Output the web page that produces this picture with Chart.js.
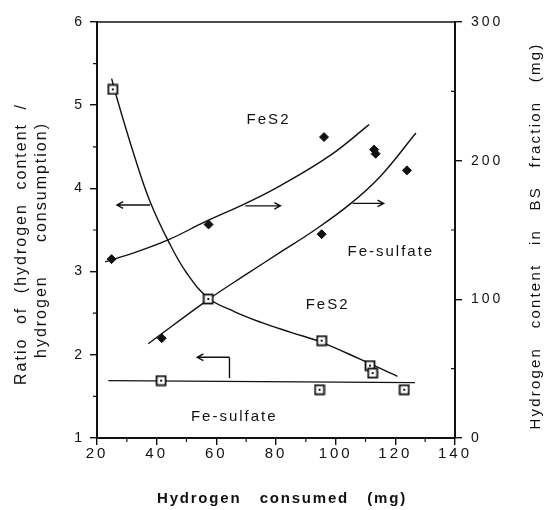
<!DOCTYPE html>
<html lang="en">
<head>
<meta charset="utf-8">
<title>Hydrogen content vs hydrogen consumed</title>
<script src="https://cdn.jsdelivr.net/npm/chart.js@4.4.1/dist/chart.umd.min.js"></script>
<style>
  html, body { margin: 0; padding: 0; background: #fff; }
  #wrap { width: 545px; height: 510px; }
</style>
</head>
<body>

<div id="wrap"><canvas id="myChart" width="545" height="510"></canvas></div>

<script>
// ratio (left axis), open squares
const fes2RatioX = [25.3, 57.3, 95.3, 111.5, 112.4];
const fes2Ratio  = [5.19, 2.67, 2.17, 1.87, 1.78];
const sulfRatioX = [41.5, 94.6, 123.0];
const sulfRatio  = [1.69, 1.58, 1.58];

// hydrogen content in BS fraction, mg (right axis), filled diamonds
const fes2ContentX = [24.9, 57.4, 96.1, 112.9];
const fes2Content  = [129, 154, 217, 208];
const sulfContentX = [41.7, 95.3, 113.4, 123.9];
const sulfContent  = [72, 147, 205, 193];

// hand drawn curves
const fes2RatioFitX = [24.9, 27.2, 32.8, 37.8, 44.0, 50.1, 57.4, 66.0, 75.0, 85.0, 95.3, 108.0, 120.7];
const fes2RatioFit  = [5.32, 5.02, 4.36, 3.84, 3.36, 2.98, 2.68, 2.52, 2.39, 2.27, 2.15, 1.95, 1.74];
const sulfRatioFitX = [23.8, 126.6];
const sulfRatioFit  = [1.69, 1.665];
const fes2ContentFitX = [22.7, 33.0, 44.0, 56.3, 69.7, 81.5, 98.3, 111.2];
const fes2ContentFit  = [127, 134, 143, 156, 169, 182, 204, 226];
const sulfContentFitX = [37.2, 57.4, 70.0, 81.5, 93.0, 105.0, 115.1, 126.9];
const sulfContentFit  = [68, 100, 118, 134, 150, 169, 189, 220];

const xTicks = [20, 40, 60, 80, 100, 120, 140];
const ratioTicks = [1, 2, 3, 4, 5, 6];
const contentTicks = [0, 100, 200, 300];

const FONT = "'Liberation Sans', Arial, sans-serif";
const INK = '#111';

const pts = (xs, ys) => xs.map((x, i) => ({ x: x, y: ys[i] }));

// open square with a dot in the middle
function squareDot() {
  const c = document.createElement('canvas');
  c.width = 12; c.height = 12;
  const g = c.getContext('2d');
  g.fillStyle = '#fff';
  g.fillRect(1.5, 1.5, 9, 9);
  g.strokeStyle = INK;
  g.lineWidth = 1.8;
  g.strokeRect(1.5, 1.5, 9, 9);
  g.fillStyle = INK;
  g.fillRect(5, 5, 2, 2);
  return c;
}
const sq = squareDot();

function markers(xs, ys, axis, style) {
  const d = { data: pts(xs, ys), yAxisID: axis, showLine: false };
  if (style === 'square') {
    d.pointStyle = sq; d.pointRadius = 6;
  } else {
    d.pointStyle = 'rectRot'; d.pointRadius = 4.5;
    d.backgroundColor = INK; d.borderColor = INK; d.borderWidth = 1;
  }
  return d;
}
function curve(xs, ys, axis) {
  return {
    data: pts(xs, ys), yAxisID: axis, showLine: true, pointRadius: 0,
    borderColor: INK, borderWidth: 1.4, tension: 0.4, fill: false
  };
}

// arrows and labels in data units of x / left axis
const arrows = [
  [37.8, 3.80, 26.7, 3.80],
  [69.7, 3.79, 81.5, 3.79],
  [105.7, 3.82, 116.1, 3.82]
];
const labels = [
  ['FeS2', 77.5, 4.82],
  ['Fe-sulfate', 118.5, 3.24],
  ['FeS2', 97.3, 2.60],
  ['Fe-sulfate', 66.0, 1.26]
];

function spread(ctx, text, x, y, width, angle, font, spacing) {
  ctx.save();
  ctx.translate(x, y);
  ctx.rotate(angle);
  ctx.font = font;
  ctx.letterSpacing = spacing + 'px';
  ctx.wordSpacing = '0px';
  const gaps = text.split(' ').length - 1;
  if (gaps && width) {
    const natural = ctx.measureText(text).width;
    ctx.wordSpacing = Math.max(0, (width - natural) / gaps) + 'px';
  }
  ctx.fillStyle = INK;
  ctx.textAlign = 'center';
  ctx.textBaseline = 'middle';
  ctx.fillText(text, 0, 0);
  ctx.restore();
}

function arrowLine(ctx, x1, y1, x2, y2) {
  const a = Math.atan2(y2 - y1, x2 - x1), h = 7;
  ctx.beginPath();
  ctx.moveTo(x1, y1); ctx.lineTo(x2, y2);
  ctx.moveTo(x2 - h * Math.cos(a - 0.5), y2 - h * Math.sin(a - 0.5));
  ctx.lineTo(x2, y2);
  ctx.lineTo(x2 - h * Math.cos(a + 0.5), y2 - h * Math.sin(a + 0.5));
  ctx.stroke();
}

const spacing = {
  id: 'spacing',
  beforeDraw: (chart) => { chart.ctx.letterSpacing = '3px'; }
};

const extras = {
  id: 'extras',
  afterDraw: (chart) => {
    const { ctx, chartArea: a, scales } = chart;
    const sx = scales.x, sy = scales.y, sy1 = scales.y1;
    ctx.save();
    ctx.strokeStyle = INK;
    ctx.lineWidth = 1.6;
    // top of frame
    ctx.beginPath();
    ctx.moveTo(a.left, a.top); ctx.lineTo(a.right, a.top);
    ctx.stroke();
    // minor ticks
    ctx.lineWidth = 1.2;
    ctx.beginPath();
    for (let v = 30; v < 140; v += 20) {
      const p = sx.getPixelForValue(v);
      ctx.moveTo(p, a.bottom); ctx.lineTo(p, a.bottom + 4);
    }
    for (let v = 1.5; v < 6; v += 1) {
      const p = sy.getPixelForValue(v);
      ctx.moveTo(a.left, p); ctx.lineTo(a.left - 4, p);
    }
    for (let v = 50; v < 300; v += 100) {
      const p = sy1.getPixelForValue(v);
      ctx.moveTo(a.right, p); ctx.lineTo(a.right - 4, p);
    }
    ctx.stroke();

    // arrows
    ctx.lineWidth = 1.4;
    arrows.forEach(r => arrowLine(ctx,
      sx.getPixelForValue(r[0]), sy.getPixelForValue(r[1]),
      sx.getPixelForValue(r[2]), sy.getPixelForValue(r[3])));
    // bent arrow pointing at the Fe-sulfate ratio line
    const bx = sx.getPixelForValue(64.4);
    ctx.beginPath();
    ctx.moveTo(bx, sy.getPixelForValue(1.72));
    ctx.lineTo(bx, sy.getPixelForValue(1.97));
    ctx.stroke();
    arrowLine(ctx, bx, sy.getPixelForValue(1.97), sx.getPixelForValue(53.6), sy.getPixelForValue(1.97));

    // curve labels
    labels.forEach(l => spread(ctx, l[0], sx.getPixelForValue(l[1]), sy.getPixelForValue(l[2]),
      0, 0, '15px ' + FONT, 2));

    // axis titles
    spread(ctx, 'Hydrogen consumed (mg)', 282, 499, 250, 0, 'bold 15px ' + FONT, 1.8);
    spread(ctx, 'Ratio of (hydrogen content /', 22, 244, 282, -Math.PI / 2, '16px ' + FONT, 2);
    spread(ctx, 'hydrogen consumption)', 42, 240, 236, -Math.PI / 2, '16px ' + FONT, 2);
    spread(ctx, 'Hydrogen content in BS fraction (mg)', 536, 236, 387, -Math.PI / 2, '15px ' + FONT, 2.2);
    ctx.restore();
  }
};

const tickFont = { family: FONT, size: 14 };
const axisGrid = { drawOnChartArea: false, drawTicks: true, tickLength: 7, color: INK, lineWidth: 1.4 };
const axisBorder = { display: true, color: INK, width: 2 };

const ctx = document.getElementById('myChart').getContext('2d');
const myChart = new Chart(ctx, {
  type: 'scatter',
  data: {
    datasets: [
      markers(fes2RatioX, fes2Ratio, 'y', 'square'),
      markers(sulfRatioX, sulfRatio, 'y', 'square'),
      markers(fes2ContentX, fes2Content, 'y1', 'diamond'),
      markers(sulfContentX, sulfContent, 'y1', 'diamond'),
      curve(fes2RatioFitX, fes2RatioFit, 'y'),
      curve(sulfRatioFitX, sulfRatioFit, 'y'),
      curve(fes2ContentFitX, fes2ContentFit, 'y1'),
      curve(sulfContentFitX, sulfContentFit, 'y1')
    ]
  },
  options: {
    responsive: false,
    animation: false,
    events: [],
    layout: { padding: { top: 22, left: 0, right: 0, bottom: 0 } },
    plugins: { legend: { display: false }, tooltip: { enabled: false } },
    scales: {
      x: {
        type: 'linear', min: 20, max: 140,
        afterBuildTicks: s => { s.ticks = xTicks.map(v => ({ value: v })); },
        ticks: { color: INK, font: { family: FONT, size: 15 }, padding: 0, maxRotation: 0 },
        grid: axisGrid, border: axisBorder,
        afterFit: s => { s.height = 72; }
      },
      y: {
        position: 'left', min: 1, max: 6,
        afterBuildTicks: s => { s.ticks = ratioTicks.map(v => ({ value: v })); },
        ticks: { color: INK, font: tickFont, padding: 5 },
        grid: axisGrid, border: axisBorder,
        afterFit: s => { s.width = 97; }
      },
      y1: {
        position: 'right', min: 0, max: 300,
        afterBuildTicks: s => { s.ticks = contentTicks.map(v => ({ value: v })); },
        ticks: { color: INK, font: tickFont, padding: 9 },
        grid: axisGrid, border: axisBorder,
        afterFit: s => { s.width = 90; }
      }
    }
  },
  plugins: [spacing, extras]
});
</script>
</body>
</html>
